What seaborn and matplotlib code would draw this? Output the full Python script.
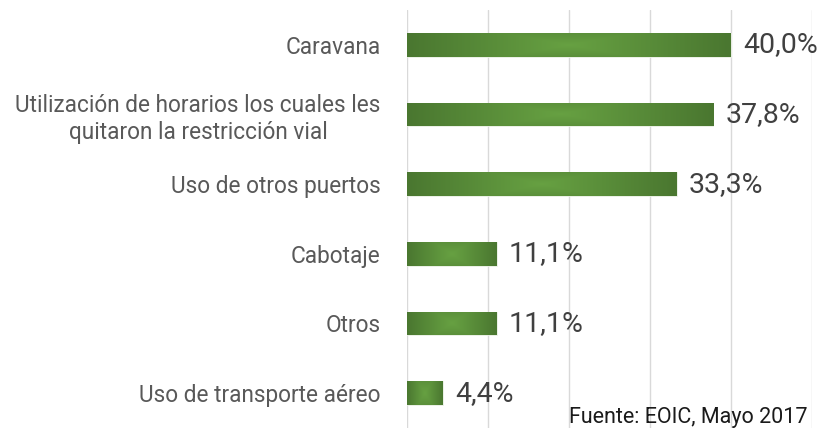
import matplotlib
matplotlib.use("Agg")
import matplotlib.pyplot as plt
import seaborn as sns
import numpy as np
from matplotlib.colors import LinearSegmentedColormap

categories = [
    "Caravana",
    "Utilización de horarios los cuales les\nquitaron la restricción vial",
    "Uso de otros puertos",
    "Cabotaje",
    "Otros",
    "Uso de transporte aéreo",
]
values = [40.0, 37.8, 33.3, 11.1, 11.1, 4.4]
grid_ticks = [0, 10, 20, 30, 40, 50]
source_note = "Fuente: EOIC, Mayo 2017"

sns.set_theme(style="white")
plt.rcParams["font.family"] = ["Roboto", "DejaVu Sans"]

fig = plt.figure(figsize=(8.17, 4.28), dpi=100)
ax = fig.add_axes([407 / 817, 0.0, 405 / 817, 418 / 428])

sns.barplot(x=values, y=categories, orient="h", width=0.34,
            color="#5a8f3a", ax=ax)

ax.set_xticks(grid_ticks)
ax.set_xticklabels([])
ax.grid(axis="x", color="#d9d9d9", linewidth=1)
ax.set_axisbelow(True)
for s in ax.spines.values():
    s.set_visible(False)
ax.tick_params(axis="y", length=0, pad=19, labelsize=16.3, labelcolor="#595959")
ax.tick_params(axis="x", length=0)
for lbl in ax.get_yticklabels():
    lbl.set_multialignment("center")
    lbl.set_linespacing(1.25)
ax.set_xlabel("")
ax.set_ylabel("")

# gradient fill: darker at the ends, lighter in the middle
cmap = LinearSegmentedColormap.from_list("g", ["#4a7730", "#67a142", "#4a7730"])
for bar in ax.patches:
    x0, y0 = bar.get_x(), bar.get_y()
    w, h = bar.get_width(), bar.get_height()
    u = np.linspace(-1, 1, 200)
    v = np.linspace(-1, 1, 30)
    U, V = np.meshgrid(u, v)
    t = np.maximum(np.abs(U), 0.4 * np.abs(V))
    grad = 0.5 + 0.5 * t
    bar.set_facecolor("none")
    bar.set_edgecolor("#e8efe2")
    bar.set_linewidth(0.6)
    im = ax.imshow(grad, cmap=cmap, vmin=0, vmax=1, aspect="auto",
                   extent=[x0, x0 + w, y0 + h, y0], interpolation="bicubic",
                   zorder=2)
    im.set_clip_path(bar)
ax.set_xlim(0, 50)
ax.set_ylim(len(categories) - 0.5, -0.5)

for i, v in enumerate(values):
    ax.text(v + 1.5, i, f"{v:.1f}%".replace(".", ","), va="center", ha="left",
            fontsize=20.5, color="#404040", zorder=3)

fig.text(569 / 817, 5 / 428, source_note, ha="left", va="baseline",
         fontsize=15.5, color="#1a1a1a")

fig.savefig("out.png", dpi=100, facecolor="white")
